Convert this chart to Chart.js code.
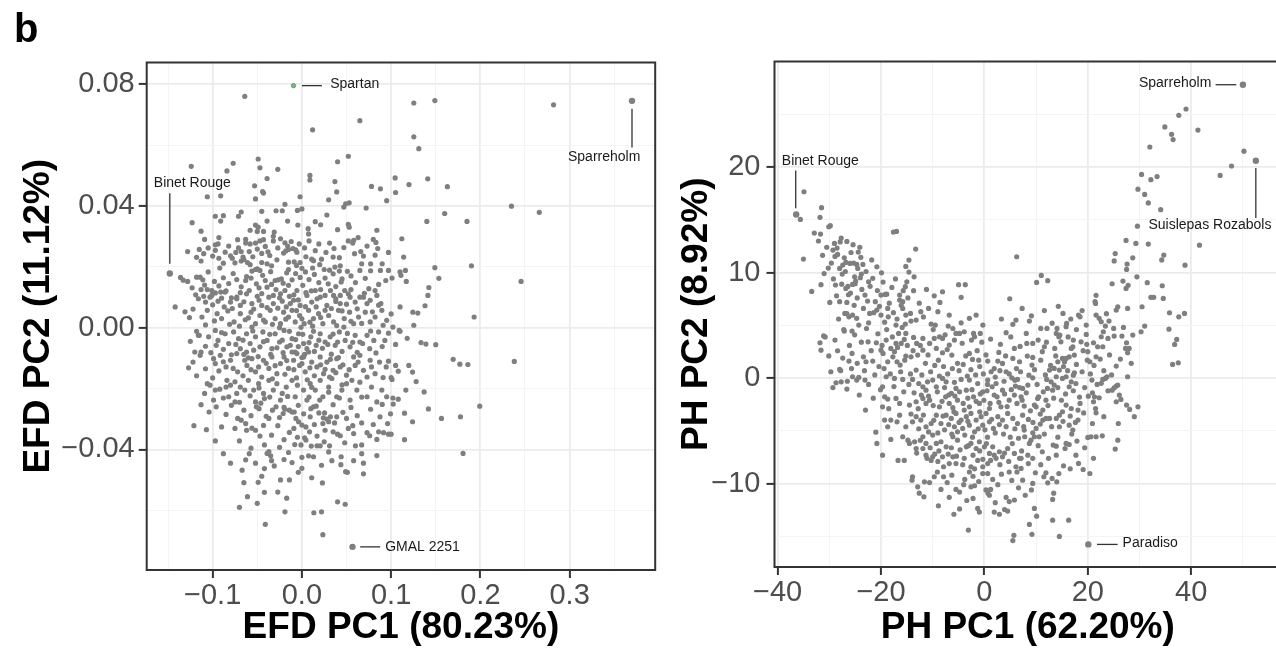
<!DOCTYPE html>
<html>
<head>
<meta charset="utf-8">
<script src="https://cdn.jsdelivr.net/npm/chart.js@4.4.1/dist/chart.umd.min.js"></script>
<style>
  html, body { margin: 0; padding: 0; background: #fff; overflow: hidden; }
  .panel { position: absolute; top: 0; }
  #efdBox { left: 0; width: 660px; height: 659px; }
  #phBox { left: 640px; width: 650px; height: 659px; }
</style>
</head>
<body>
<div class="panel" id="efdBox"><canvas id="efdChart" width="660" height="659"></canvas></div>
<div class="panel" id="phBox"><canvas id="phChart" width="650" height="659"></canvas></div>
<script>
// EFD scores: [PC1, PC2]
const efdPoints = [
  [-0.064,0.076],[0.065,0.068],[0.012,0.065],[-0.124,0.053],[-0.084,0.0515],[-0.077,0.054],[-0.049,0.0554],[-0.047,0.0525],
  [-0.027,0.052],[-0.039,0.049],[0.009,0.050],[0.009,0.0485],[0.040,0.0545],[0.052,0.0563],[0.037,0.048],[0.078,0.0464],
  [0.088,0.0456],[-0.106,0.043],[-0.091,0.0433],[-0.053,0.0466],[-0.044,0.0447],[-0.043,0.0442],[-0.052,0.0423],[-0.002,0.043],
  [-0.019,0.0405],[0.030,0.042],[0.039,0.0446],[0.047,0.0396],[0.049,0.0407],[0.053,0.041],[0.072,0.0393],[0.095,0.0417],
  [-0.123,0.0345],[-0.097,0.0366],[-0.088,0.0368],[-0.091,0.035],[-0.071,0.0366],[-0.068,0.038],[-0.045,0.0382],[-0.029,0.0384],
  [-0.022,0.0384],[-0.005,0.0385],[0.000,0.039],[-0.016,0.035],[-0.0045,0.0337],[0.015,0.0348],[0.021,0.0338],[0.0075,0.0308],
  [0.028,0.037],[0.040,0.0322],[0.052,0.0339],[0.053,0.033],[0.084,0.032],[-0.113,0.0317],[-0.109,0.029],[-0.093,0.0296],
  [-0.094,0.0275],[-0.097,0.0272],[-0.128,0.025],[-0.115,0.0257],[-0.110,0.0243],[-0.113,0.0219],[-0.097,0.0254],[-0.093,0.0228],
  [-0.078,0.0228],[-0.080,0.0236],[-0.072,0.0289],[-0.071,0.0262],[-0.068,0.025],[-0.063,0.029],[-0.063,0.0278],[-0.058,0.0275],
  [-0.052,0.0278],[-0.047,0.0285],[-0.043,0.0289],[-0.052,0.0337],[-0.049,0.033],[-0.050,0.0316],[-0.058,0.032],[-0.043,0.0316],
  [-0.031,0.0314],[-0.032,0.030],[-0.032,0.0285],[-0.019,0.0279],[-0.016,0.0268],[-0.015,0.0257],[-0.010,0.026],[-0.007,0.0256],
  [-0.0056,0.0248],[-0.018,0.0252],[-0.0205,0.0245],[-0.038,0.0249],[-0.045,0.0244],[-0.059,0.025],[-0.065,0.0224],[-0.061,0.0214],
  [-0.068,0.0219],[-0.075,0.0213],[-0.045,0.0214],[-0.039,0.021],[-0.028,0.0223],[-0.015,0.0215],[-0.0086,0.0216],[-0.002,0.0214],
  [0.0045,0.0233],[0.011,0.0225],[0.013,0.022],[0.019,0.0275],[0.027,0.0247],[0.035,0.0232],[0.036,0.026],[0.042,0.023],
  [0.043,0.0203],[0.052,0.0285],[0.058,0.0287],[0.057,0.0278],[0.059,0.0243],[0.066,0.025],[0.069,0.0235],[0.067,0.021],
  [0.077,0.021],[0.080,0.029],[0.083,0.028],[0.085,0.026],[0.082,0.0238],[0.090,0.021],[0.097,0.0247],
  [-0.136,0.0165],[-0.133,0.0156],[-0.118,0.0166],[-0.114,0.0166],[-0.111,0.0157],[-0.109,0.014],[-0.113,0.0125],[-0.106,0.0125],
  [-0.101,0.0122],[-0.110,0.0103],[-0.103,0.010],[-0.097,0.0114],[-0.091,0.0117],[-0.088,0.0164],[-0.085,0.0121],[-0.079,0.0098],
  [-0.073,0.010],[-0.069,0.0115],[-0.063,0.0155],[-0.062,0.0168],[-0.056,0.0186],[-0.052,0.0191],[-0.050,0.0193],[-0.047,0.0188],
  [-0.041,0.0155],[-0.051,0.0144],[-0.048,0.0131],[-0.039,0.0133],[-0.030,0.0155],[-0.0265,0.0157],[-0.023,0.016],[-0.021,0.0146],
  [-0.017,0.018],[-0.015,0.0191],[-0.015,0.0139],[-0.032,0.0106],[-0.024,0.0111],[-0.014,0.0103],[-0.0056,0.0122],[0.001,0.0139],
  [0.0045,0.0115],[0.0105,0.0121],[0.015,0.0122],[0.025,0.0191],[0.031,0.0189],[0.037,0.0199],[0.035,0.0177],[0.042,0.0186],
  [0.045,0.016],[0.044,0.015],[0.0295,0.0144],[0.032,0.0122],[0.055,0.017],[0.065,0.0188],[0.077,0.0187],[0.088,0.0188],
  [0.097,0.0188],[0.055,0.0125],[0.065,0.010],[0.094,0.0155],[0.082,0.0122],[0.054,0.010],[0.043,0.0106],[0.038,0.0095],
  [-0.142,0.0068],[-0.126,0.0033],[-0.115,-0.0025],[-0.120,-0.008],[-0.113,-0.008],[-0.122,-0.0113],[-0.127,-0.0132],
  [-0.116,0.0095],[-0.108,0.0084],[-0.101,0.0106],[-0.094,0.0087],[-0.086,0.0117],[-0.080,0.0084],[-0.073,0.0095],[-0.069,0.0073],
  [-0.062,0.0111],[-0.056,0.0079],[-0.050,0.0103],[-0.045,0.0073],[-0.037,0.010],[-0.032,0.0079],[-0.025,0.0098],[-0.0175,0.0068],
  [-0.0093,0.009],[-0.002,0.0073],[0.0056,0.0106],[0.011,0.0084],[0.0205,0.010],[0.028,0.0073],[0.0355,0.0106],[0.043,0.0079],
  [0.052,0.0111],[0.0597,0.0084],[0.069,0.010],[0.0765,0.009],[0.084,0.0106],[0.0885,0.0079],
  [-0.106,0.0057],[-0.095,0.0046],[-0.090,0.003],[-0.083,0.0055],[-0.076,0.0019],[-0.069,0.0046],[-0.0635,0.0026],[-0.057,0.0051],
  [-0.052,0.0013],[-0.047,0.004],[-0.041,0.0019],[-0.0355,0.0057],[-0.030,0.003],[-0.024,0.0013],[-0.0205,0.0051],[-0.015,0.0035],
  [-0.011,0.0057],[-0.0075,0.0019],[-0.0026,0.004],[0.0026,0.0013],[0.0075,0.0057],[0.013,0.003],[0.0187,0.0046],[0.0235,0.0013],
  [0.030,0.004],[0.0355,0.0019],[0.041,0.0057],[0.0474,0.003],[0.0534,0.0051],[0.058,0.0013],[0.0635,0.0035],[0.071,0.0051],
  [0.0765,0.0019],[0.082,0.0035],[0.0896,0.0057],[0.095,0.0024],
  [-0.116,-0.0025],[-0.1045,-0.003],[-0.097,-0.0009],[-0.094,-0.0042],[-0.086,-0.002],[-0.082,-0.0052],[-0.0765,-0.0014],[-0.071,-0.0036],
  [-0.069,-0.0069],[-0.062,-0.002],[-0.058,-0.0052],[-0.052,-0.003],[-0.047,-0.0063],[-0.0437,-0.0014],[-0.039,-0.0042],[-0.0336,-0.0069],
  [-0.030,-0.002],[-0.025,-0.0047],[-0.020,-0.0009],[-0.0168,-0.0063],[-0.011,-0.0036],[-0.0075,-0.008],[-0.0037,-0.002],[0.0019,-0.0052],
  [0.0056,-0.0069],[0.010,-0.003],[0.016,-0.0058],[0.0205,-0.002],[0.026,-0.0047],[0.0317,-0.003],[0.0373,-0.0058],[0.042,-0.0014],
  [0.0485,-0.0042],[0.054,-0.0063],[0.0597,-0.0025],[0.065,-0.0047],[0.073,-0.0025],[0.0806,-0.0042],[0.086,-0.0014],[0.093,-0.0042],
  [-0.114,-0.0091],[-0.099,-0.0102],[-0.097,-0.0118],[-0.0915,-0.0091],[-0.085,-0.0129],[-0.080,-0.0107],[-0.073,-0.0085],[-0.072,-0.0145],
  [-0.062,-0.008],[-0.0616,-0.0124],[-0.056,-0.0102],[-0.052,-0.0145],[-0.0485,-0.0129],[-0.043,-0.0107],[-0.037,-0.0134],[-0.0336,-0.0096],
  [-0.028,-0.0151],[-0.024,-0.0118],[-0.020,-0.0096],[-0.015,-0.0134],[-0.011,-0.008],[-0.0093,-0.0107],[-0.0056,-0.0085],[-0.0026,-0.0124],
  [0.0019,-0.0096],[0.0037,-0.0145],[0.0075,-0.008],[0.011,-0.0113],[0.0168,-0.0129],[0.0205,-0.0096],[0.0243,-0.0151],[0.028,-0.0113],
  [0.035,-0.014],[0.039,-0.0102],[0.043,-0.0129],[0.050,-0.0156],[0.058,-0.0096],[0.0597,-0.0124],[0.065,-0.0091],[0.069,-0.014],
  [0.0765,-0.0107],[0.082,-0.0151],[0.087,-0.0113],[0.0945,-0.0129],
  [-0.106,-0.0184],[-0.097,-0.0205],[-0.084,-0.0173],[-0.073,-0.0216],[-0.069,-0.0195],[-0.060,-0.0173],[-0.054,-0.0205],[-0.0485,-0.0184],
  [-0.042,-0.0233],[-0.037,-0.0173],[-0.032,-0.0205],[-0.028,-0.0184],[-0.022,-0.0216],[-0.0175,-0.0195],[-0.011,-0.0173],[-0.0075,-0.0227],
  [-0.005,-0.0189],[0.0019,-0.0205],[0.0056,-0.0238],[0.0093,-0.0184],[0.015,-0.0205],[0.0205,-0.0173],[0.0235,-0.0227],[0.030,-0.0195],
  [0.0336,-0.0167],[0.039,-0.0227],[0.0448,-0.0205],[0.050,-0.0184],[0.054,-0.0238],[0.0616,-0.0205],[0.065,-0.0179],[0.073,-0.0227],
  [0.078,-0.0195],[0.084,-0.0244],[0.0896,-0.0205],[0.095,-0.0227],
  [-0.109,-0.0216],[-0.103,-0.0189],[-0.099,-0.0238],[-0.096,-0.026],[-0.092,-0.0202],[-0.082,-0.0227],[-0.080,-0.0189],[-0.079,-0.0255],
  [-0.075,-0.0244],[-0.072,-0.0298],[-0.068,-0.0304],[-0.065,-0.0271],[-0.064,-0.0205],[-0.063,-0.0315],[-0.062,-0.0337],[-0.052,-0.0337],
  [-0.052,-0.0244],[-0.051,-0.026],[-0.048,-0.0266],[-0.043,-0.0216],[-0.043,-0.0321],[-0.040,-0.0291],[-0.037,-0.0298],[-0.034,-0.0353],
  [-0.029,-0.026],[-0.024,-0.0238],[-0.020,-0.0262],[-0.019,-0.0268],[-0.014,-0.0344],[-0.014,-0.0271],[-0.011,-0.0277],[-0.0086,-0.0277],
  [-0.0067,-0.0298],[-0.0037,-0.0309],[0.000,-0.032],[0.003,-0.0362],[0.0045,-0.0326],[0.0086,-0.0342],[0.0093,-0.0293],[0.013,-0.026],
  [0.016,-0.0258],[0.019,-0.028],[0.0235,-0.0315],[0.0254,-0.028],[0.026,-0.0337],[0.028,-0.030],[0.030,-0.0309],[0.032,-0.0293],
  [0.035,-0.0342],[0.0366,-0.0313],[0.039,-0.0293],[0.040,-0.035],[0.043,-0.0355],[0.050,-0.0298],[0.052,-0.0331],[0.058,-0.0348],
  [0.067,-0.0313],[0.073,-0.0345],[0.084,-0.0367],[0.086,-0.0342],[0.0915,-0.0345],[0.096,-0.0315],[0.0875,-0.0293],[0.097,-0.035],
  [-0.121,-0.0322],[-0.090,-0.0326],[-0.088,-0.0414],[-0.063,-0.0434],[-0.059,-0.0414],[-0.057,-0.0396],[-0.042,-0.0463],[-0.039,-0.0413],
  [-0.037,-0.0407],[-0.035,-0.0421],[-0.034,-0.0437],[-0.031,-0.0454],[-0.025,-0.0393],[-0.015,-0.041],[-0.011,-0.0443],[-0.008,-0.0384],
  [-0.005,-0.036],[0.000,-0.0426],[0.0045,-0.0369],[0.0075,-0.0421],[0.013,-0.0424],[0.0105,-0.0389],[0.017,-0.0388],[0.0205,-0.0388],
  [0.0336,-0.0437],[0.0437,-0.045],[0.049,-0.0473],[0.051,-0.0475],[0.044,-0.0424],[0.067,-0.0385],[0.067,-0.0414],[0.069,-0.0445],
  [0.069,-0.048],[0.084,-0.042],[-0.065,-0.0509],[-0.049,-0.0508],[-0.024,-0.050],[-0.014,-0.050],[0.011,-0.0493],[0.023,-0.051],
  [-0.061,-0.0555],[-0.042,-0.0541],[-0.027,-0.054],[-0.017,-0.056],[-0.070,-0.059],[-0.050,-0.0577],[-0.019,-0.0605],[0.0134,-0.0608],
  [0.022,-0.0605],[0.040,-0.0572],[0.0485,-0.058],[-0.041,-0.0646],[0.0235,-0.068],
  [0.1254,0.0738],[0.149,0.0746],[0.282,0.0732],[0.1254,0.0627],[0.131,0.0588],[0.1045,0.0492],[0.105,0.0444],[0.120,0.047],
  [0.141,0.0489],[0.163,0.0463],[0.2348,0.0399],[0.266,0.0379],[0.140,0.0349],[0.160,0.0375],[0.185,0.0349],[0.112,0.0292],
  [0.114,0.0232],[0.149,0.0197],[0.190,0.0203],[0.110,0.0183],[0.116,0.0188],[0.111,0.0172],[0.117,0.0152],[0.101,0.0163],
  [0.1535,0.0162],[0.2456,0.0152],[0.1423,0.0132],[0.1412,0.0106],[0.138,0.0072],[0.1243,0.0051],[0.1299,0.0048],[0.193,0.0035],
  [0.1254,0.0008],[0.102,0.0002],[0.109,-0.0009],
  [0.110,-0.0012],[0.1335,-0.0049],[0.139,-0.0054],[0.150,-0.0056],[0.1695,-0.0104],[0.177,-0.012],[0.186,-0.0121],[0.238,-0.0111],
  [0.105,-0.0124],[0.1198,-0.0124],[0.124,-0.0146],[0.128,-0.0177],[0.100,-0.0164],[0.101,-0.017],[0.1165,-0.0205],[0.137,-0.0211],
  [0.102,-0.0231],[0.1023,-0.0251],[0.0993,-0.0283],[0.1418,-0.0267],[0.1564,-0.0298],[0.1777,-0.0293],[0.1993,-0.0258],[0.124,-0.0309],
  [0.100,-0.035],[0.115,-0.0368],[0.1806,-0.0413],
  [-0.105,0.0262],[-0.086,0.0248],[-0.082,0.0268],[-0.074,0.0247],[-0.066,0.0232],[-0.055,0.0233],[-0.05,0.0258],[-0.041,0.0267],
  [-0.036,0.0237],[-0.027,0.0262],[-0.024,0.0292],[-0.012,0.0283],[-0.003,0.0275],[0.003,0.0262],[0.008,0.0285],[0.015,0.0253],
  [0.022,0.0225],[0.031,0.0278],[0.047,0.0263],[0.063,0.0296],[-0.088,0.0212],[-0.058,0.0207],[-0.034,0.0203],[-0.006,0.0204],
  [0.02,0.0207],[0.073,0.0268],[-0.118,0.0231],[-0.1,0.0235],[0.007,0.0325],[-0.039,0.035],
  [-0.128,0.0152],[-0.123,0.0131],[-0.105,0.0183],[-0.098,0.0152],[-0.093,0.0137],[-0.082,0.0145],[-0.077,0.0178],[-0.073,0.0158],
  [-0.068,0.0134],[-0.059,0.0122],[-0.057,0.0163],[-0.044,0.0172],[-0.035,0.0184],[-0.034,0.0142],[-0.029,0.0125],[-0.019,0.0122],
  [-0.011,0.0157],[-0.007,0.0178],[-0.002,0.0165],[0.004,0.0183],[0.008,0.0158],[0.014,0.0175],[0.019,0.0148],[0.021,0.0125],
  [0.026,0.0163],[0.038,0.0135],[0.048,0.0122],[0.051,0.0185],[0.06,0.0148],[0.071,0.0162],[0.075,0.0128],[0.086,0.0142],
  [-0.045,0.0112],[-0.009,0.0108],[0.026,0.0106],[0.07,0.0113],[-0.119,0.0108],[-0.092,0.0196],[0.0,0.0195],[0.012,0.0196],
  [-0.131,0.0052],[-0.122,0.0061],[-0.112,0.0035],[-0.1,0.0075],[-0.098,0.0022],[-0.087,0.0068],[-0.081,0.0011],[-0.078,0.0063],
  [-0.065,0.0085],[-0.06,0.0032],[-0.054,0.0061],[-0.048,0.009],[-0.043,0.0025],[-0.039,0.0066],[-0.033,0.0011],[-0.027,0.0064],
  [-0.022,0.0087],[-0.018,0.0028],[-0.013,0.0079],[-0.006,0.0056],[-0.004,0.0091],[0.0,0.0029],[0.004,0.0069],[0.009,0.0018],
  [0.016,0.0068],[0.017,0.0095],[0.021,0.0033],[0.026,0.0057],[0.033,0.0063],[0.038,0.0086],[0.039,0.0007],[0.045,0.0055],
  [0.05,0.0077],[0.055,0.0021],[0.062,0.0062],[0.067,0.0014],[0.073,0.0079],[0.079,0.0052],[0.086,0.0074],[0.091,0.0008],
  [0.1,0.0045],[0.11,0.0068],[-0.07,0.0005],[-0.025,0.0],[0.012,0.0005],[0.047,0.0002],[-0.108,0.0009],[-0.09,0.0097],
  [-0.056,0.0002],[-0.001,0.0001],
  [-0.125,-0.0045],[-0.108,-0.0061],[-0.102,-0.0082],[-0.09,-0.0016],[-0.088,-0.0071],[-0.079,-0.0089],[-0.074,-0.0055],[-0.066,-0.0041],
  [-0.065,-0.0088],[-0.055,-0.0011],[-0.054,-0.0074],[-0.049,-0.0095],[-0.043,-0.0046],[-0.036,-0.0022],[-0.035,-0.0088],[-0.028,-0.0066],
  [-0.022,-0.0041],[-0.021,-0.0082],[-0.014,-0.0012],[-0.013,-0.0058],[-0.007,-0.0039],[-0.004,-0.0062],[0.001,-0.0022],[0.003,-0.0088],
  [0.008,-0.0049],[0.013,-0.0012],[0.014,-0.0078],[0.019,-0.0041],[0.023,-0.0068],[0.029,-0.0055],[0.033,-0.0087],[0.035,-0.0021],
  [0.04,-0.0047],[0.045,-0.0078],[0.051,-0.0019],[0.057,-0.0048],[0.062,-0.0081],[0.068,-0.0052],[0.076,-0.0069],[0.077,-0.0011],
  [0.083,-0.0083],[0.09,-0.0062],[0.097,-0.0018],[0.105,-0.0055],[0.118,-0.0035],[-0.118,-0.0012],[-0.096,-0.0058],[-0.06,-0.0099],
  [0.0,-0.0098],[0.041,-0.0098],
  [-0.118,-0.0158],[-0.108,-0.0135],[-0.1,-0.0165],[-0.093,-0.0142],[-0.088,-0.0112],[-0.077,-0.0134],[-0.075,-0.0178],[-0.066,-0.0158],
  [-0.064,-0.0107],[-0.057,-0.0138],[-0.045,-0.0162],[-0.04,-0.0117],[-0.033,-0.0168],[-0.03,-0.0125],[-0.019,-0.0153],[-0.017,-0.0108],
  [-0.009,-0.0138],[-0.006,-0.0165],[0.0,-0.0118],[0.006,-0.0171],[0.009,-0.0132],[0.014,-0.0158],[0.021,-0.0122],[0.026,-0.0137],
  [0.031,-0.0162],[0.032,-0.0104],[0.038,-0.0148],[0.046,-0.0122],[0.053,-0.0138],[0.056,-0.0173],[0.063,-0.0113],[0.073,-0.0162],
  [0.078,-0.0129],[0.091,-0.0164],[0.097,-0.011],[0.108,-0.0143],[-0.085,-0.0195],[-0.048,-0.0198],[0.011,-0.0196],[0.045,-0.0188],
  [-0.113,-0.0253],[-0.104,-0.0277],[-0.088,-0.0231],[-0.085,-0.0285],[-0.07,-0.0245],[-0.058,-0.0224],[-0.057,-0.0289],[-0.046,-0.0248],
  [-0.036,-0.0228],[-0.033,-0.0271],[-0.025,-0.0295],[-0.016,-0.0226],[-0.004,-0.0255],[0.002,-0.0283],[0.008,-0.0228],[0.01,-0.0266],
  [0.02,-0.0238],[0.024,-0.0296],[0.035,-0.0253],[0.042,-0.0231],[0.046,-0.0278],[0.055,-0.0262],[0.062,-0.0289],[0.067,-0.0228],
  [0.077,-0.0268],[0.09,-0.0252],[0.108,-0.0235],[0.115,-0.0281],[-0.021,-0.0282],[0.03,-0.0212],
  [-0.107,-0.0335],[-0.097,-0.0372],[-0.075,-0.0331],[-0.07,-0.0372],[-0.047,-0.0356],[-0.042,-0.0385],[-0.027,-0.0322],[-0.02,-0.0368],
  [-0.009,-0.0331],[-0.001,-0.0385],[0.014,-0.0318],[0.017,-0.0356],[0.025,-0.0375],[0.031,-0.0388],[0.048,-0.0378],[0.057,-0.0322],
  [0.06,-0.0388],[0.076,-0.0355],[0.08,-0.0318],[-0.056,-0.033],
  [-0.08,-0.0445],[-0.067,-0.0468],[-0.052,-0.0445],[-0.045,-0.0488],[-0.02,-0.0433],[-0.004,-0.0475],[0.022,-0.0452],[0.03,-0.0408],
  [0.058,-0.0437],[0.0,-0.0462]
];
// labelled accessions (EFD)
const efdLabelNames = ['Spartan', 'Sparreholm', 'Binet Rouge', 'GMAL 2251'];
const efdLabelPC1 = [-0.0094, 0.3699, -0.148, 0.0567];
const efdLabelPC2 = [0.0795, 0.0745, 0.0178, -0.0720];

// PH scores: [PC1, PC2]
const phPoints = [
  [-34.9,17.66],[-35.6,15.04],[-31.5,16.15],[-31.8,15.23],[-29.8,14.44],[-30.1,14.34],[-32.9,13.74],[-31.7,13.65],
  [-32.1,12.99],[-35.0,11.28],[-31.3,11.63],[-27.7,13.27],[-26.6,12.95],[-25.4,12.64],[-29.0,12.76],[-29.3,12.13],
  [-28.5,12.32],[-28.9,11.53],[-28.4,11.72],[-24.4,11.94],[-23.9,11.44],[-30.2,10.43],[-28.0,10.39],[-27.4,10.71],
  [-26.8,10.96],[-26.0,10.87],[-25.3,10.90],[-24.7,10.77],[-23.5,10.77],[-27.5,9.86],[-25.1,9.6],[-24.5,10.39],
  [-23.8,9.86],[-20.8,10.55],[-19.9,9.98],[-21.6,9.45],[-22.4,9.13],[-24.0,9.51],[-25.0,8.94],[-25.5,8.88],
  [-26.4,8.69],[-26.8,8.5],[-31.6,8.85],[-33.4,8.21],[-28.8,8.82],[-25.9,8.06],[-23.1,7.87],[-21.1,7.24],
  [-20.0,7.87],[-19.2,7.93],[-18.9,7.95],[-17.9,8.59],[-17.6,13.84],[-17.0,13.9],[-13.3,12.23],[-14.6,11.18],
  [-15.2,10.58],[-14.6,10.05],[-15.0,9.13],[-15.3,8.66],[-15.7,8.28],[-16.4,7.87],[-16.4,7.39],[-13.7,8.28],
  [-15.8,7.24],[-9.7,7.8],[-8.1,8.18],[-8.6,7.17],[-5.0,8.85],[-3.7,8.85],[-4.5,7.65],[6.25,11.5],
  [4.9,7.52],[-29.9,7.17],[-28.0,7.24],[-26.6,7.17],
  [39.0,25.5],[37.6,24.9],[34.9,23.8],[36.2,23.1],[36.5,22.6],[41.3,23.5],[32.0,21.9],[50.2,21.5],
  [47.8,20.1],[45.6,19.2],[30.4,19.3],[32.2,18.8],[33.4,19.1],[29.7,17.9],[31.0,17.4],[31.7,16.6],
  [34.1,15.96],[29.6,14.4],[27.4,13.05],[29.3,12.76],[31.7,12.7],[41.6,12.6],[25.3,11.8],[25.1,11.1],
  [28.7,11.4],[27.6,10.8],[27.5,10.3],[34.7,11.66],[34.3,11.2],[38.8,10.7],[11.0,9.73],[10.1,9.07],
  [12.25,9.23],[29.5,9.6],[24.7,8.94],[26.8,9.19],[27.8,8.8],[27.4,8.5],[31.5,9.04],[34.4,8.75],
  [21.6,7.84],[21.5,7.08],[32.2,7.65],[32.75,7.65],[34.6,7.55],[3.3,5.6],[5.5,5.1],
  [-27.0,6.13],[-26.2,5.81],[-25.5,5.97],[-24.7,5.66],[-24.3,5.02],[-22.2,6.13],[-22.4,5.24],[-20.8,6.45],
  [-20.0,5.97],[-18.7,6.6],[-18.6,5.81],[-15.8,6.6],[-15.2,5.97],[-14.3,6.13],[-12.3,6.29],[-13.2,5.5],
  [-15.3,5.12],[-17.1,5.02],[-10.3,5.12],[-9.5,5.02],[-9.0,6.29],[-6.8,5.97],[-7.0,4.93],[-4.5,5.24],
  [-2.9,5.66],[-1.6,5.97],[-0.3,5.02],[4.2,4.3],[6.1,5.5],[7.3,6.6],[-27.1,4.46],[-25.6,4.46],
  [-31.1,4.0],[-31.8,3.35],[-31.6,2.65],[-28.4,2.59],[-25.6,2.34],[-26.2,1.61],[-28.0,0.82],[-27.8,0.7],
  [-28.7,-0.44],[-27.7,-0.35],[-26.6,-1.04],[-25.5,0.13],[-24.7,-0.19],[-24.3,0.06],[-23.1,-0.19],[-23.4,2.02],
  [-22.9,1.55],[-21.6,1.61],[-23.0,-3.03],[-22.5,3.44],[-20.9,3.35],[-20.0,2.65],[-19.6,2.34],[-19.0,3.6],
  [-18.7,1.55],[-18.1,2.81],[-17.7,2.02],[-17.4,2.5],[-16.9,1.55],[-16.3,1.23],[-17.1,3.29],[-16.1,3.29],
  [-15.5,3.66],[-16.6,4.23],[-15.2,4.23],[-13.7,3.85],[-13.1,3.29],[-11.9,2.65],[-12.9,2.18],[-15.2,2.09],
  [-14.2,2.02],[-11.9,3.76],[-10.6,3.29],[-9.7,3.76],[-9.3,2.81],[-8.7,3.92],[-8.1,3.76],[-5.8,3.6],
  [-5.5,4.23],[-4.8,4.23],[-3.9,4.39],[-2.1,4.23],[-0.8,4.23],[-1.9,3.92],[-6.8,3.13],[-8.1,2.4],
  [-6.3,2.18],[-2.9,2.34],[-2.3,1.77],[-1.1,1.7],[0.64,1.61],[2.8,2.43],[2.6,1.61],[3.5,1.39],
  [4.2,0.6],[5.5,1.86],[5.8,2.81],[6.9,3.0],[6.8,1.55],[5.3,0.03],[6.0,-0.76],[6.4,-0.13],
  [-19.0,0.13],[-19.7,-0.82],[-19.3,-1.77],[-19.7,-2.72],[-18.7,-1.99],[-17.4,-0.03],[-15.8,-0.13],[-17.1,-1.93],
  [-13.9,-0.13],[-13.2,0.76],[-12.7,-0.51],[-11.9,-0.82],[-11.0,-0.35],[-11.3,-1.14],[-10.0,-0.19],[-9.3,-0.82],
  [-8.1,-0.03],[-7.4,-0.35],[-7.5,-1.77],[-6.4,-1.45],[-5.5,-0.98],[-4.5,-0.13],[-5.2,-2.09],[-6.8,-2.4],
  [-8.7,-2.72],[-10.6,-2.09],[-11.9,-1.93],[-13.2,-2.24],[-14.5,-2.56],[-11.3,-2.4],[-3.5,-1.14],[-2.9,-0.19],
  [-2.1,-1.77],[-1.3,-0.51],[-0.32,-1.3],[0.64,-0.19],[1.5,-0.82],[2.45,-1.77],[2.26,-0.51],[3.5,-1.14],
  [4.8,-2.09],[5.8,-1.61],[7.1,-1.77],[3.2,-2.72],[0.97,-2.88],[-0.97,-2.4],[-2.9,-2.72],[-3.9,-3.03],
  [-5.5,-3.35],[-6.4,-3.82],[-7.4,-3.51],[-8.4,-4.3],[-9.3,-3.51],[-10.3,-4.3],[-11.3,-4.61],[-12.3,-3.98],
  [-13.2,-3.66],[-13.9,-4.14],[-15.2,-4.61],[-16.4,-3.51],[-16.9,-4.14],[-18.1,-3.98],[-19.3,-3.98],[-18.7,-4.61],
  [-21.0,-5.12],[-20.8,-6.19],[-18.1,-5.81],[-19.7,-7.3],[-15.8,-5.56],[-14.8,-5.88],[-14.5,-6.19],[-13.5,-6.03],
  [-13.2,-6.67],[-11.9,-5.56],[-11.3,-6.19],[-10.0,-5.4],[-9.3,-6.19],[-8.4,-6.03],[-7.4,-6.51],[-6.1,-5.56],
  [-5.8,-4.61],[-5.2,-5.09],[-5.2,-5.88],[-4.5,-3.98],[-4.2,-4.77],[-3.5,-3.66],[-2.9,-4.46],[-2.6,-3.35],
  [-1.9,-5.09],[-1.6,-3.98],[-0.64,-3.66],[-0.32,-4.46],[0.32,-3.35],[0.97,-4.14],[1.74,-4.77],[2.6,-3.66],
  [3.5,-3.98],[4.5,-3.35],[5.5,-3.82],[6.4,-4.3],[7.4,-3.51],[-3.5,-6.51],[-2.6,-6.19],[-1.6,-6.67],
  [-0.97,-6.03],[0.0,-6.51],[0.97,-7.14],[1.6,-6.51],[2.9,-6.98],[3.5,-7.46],[4.5,-6.67],[5.8,-7.14],
  [6.8,-7.6],[6.1,-8.4],[4.8,-8.9],[2.26,-7.6],[0.64,-8.1],[-0.32,-8.4],[-1.3,-7.8],[-2.6,-8.4],
  [-2.9,-8.9],[-4.2,-8.2],[-5.5,-8.1],[-6.1,-7.46],[-6.8,-8.1],[-8.1,-7.46],[-9.0,-7.9],[-10.0,-7.46],
  [-10.3,-7.8],[-11.3,-7.3],[-11.9,-6.67],[-15.5,-7.8],[-16.7,-7.8],[-13.9,-9.35],[-14.0,-9.67],[-12.9,-10.3],
  [-12.6,-10.9],[-11.7,-11.25],[-11.6,-9.83],[-9.7,-9.35],[-8.4,-10.55],[-7.9,-9.35],[-6.8,-11.3],[-5.9,-12.9],
  [-4.8,-12.4],[-5.5,-10.55],[-4.8,-10.8],[-4.0,-10.1],[-3.4,-11.6],[-2.6,-10.3],[-1.9,-10.2],[-3.1,-14.4],
  [-1.3,-12.35],[-0.97,-12.7],[0.3,-10.6],[0.7,-10.9],[1.2,-10.55],[0.97,-11.1],[2.1,-11.8],[1.9,-12.7],
  [3.9,-12.45],[4.2,-11.3],[4.5,-12.6],[4.8,-11.7],[5.8,-11.55],[5.7,-14.9],[5.5,-15.4],[-0.32,-9.04],
  [0.64,-9.04],
  [8.7,5.4],[8.1,4.23],[8.2,3.29],[9.35,3.29],[8.3,2.09],[9.35,1.96],[9.2,1.23],[8.6,0.28],
  [9.35,0.03],[8.4,-0.66],[7.4,-0.98],[7.3,-2.09],[7.7,-2.65],[8.5,-3.92],[7.7,-4.93],[7.8,-5.56],
  [9.0,-5.88],[9.35,-5.18],[10.0,-4.77],[10.8,-4.36],[11.3,-3.98],[11.9,-3.82],[12.6,-3.82],[10.8,-3.41],
  [10.0,-2.72],[9.67,-2.56],[10.3,-1.93],[10.5,-1.77],[11.3,-3.03],[11.9,-2.09],[12.2,-0.98],[13.2,-1.14],
  [13.5,-0.66],[12.9,-0.35],[12.05,-0.13],[13.9,0.13],[15.1,-0.03],[15.8,0.13],[16.4,-0.82],[16.8,-0.35],
  [17.7,-0.51],[17.2,0.28],[14.5,0.76],[13.5,0.92],[12.6,0.76],[14.2,1.55],[15.5,1.55],[15.1,1.86],
  [16.4,2.02],[17.4,2.18],[17.4,0.5],[16.8,2.81],[17.1,2.97],[17.2,3.6],[15.8,1.86],[14.8,3.44],
  [14.4,3.92],[13.9,4.23],[14.6,4.08],[13.6,2.81],[11.6,2.97],[11.2,2.5],[10.9,4.71],[12.1,4.71],
  [14.05,4.71],[15.2,6.13],[15.8,4.87],[15.9,5.18],[18.2,5.97],[18.5,5.81],[18.7,3.44],[19.7,5.02],
  [19.7,4.14],[20.0,2.5],[19.9,1.7],[20.4,1.55],[21.1,3.35],[21.6,2.02],[21.4,7.24],[21.6,5.97],
  [22.2,5.66],[22.6,5.34],[23.0,4.39],[23.4,4.93],[22.6,3.92],[21.9,2.97],[22.9,2.97],[23.9,3.76],
  [25.0,4.71],[25.1,3.98],[25.5,6.45],[25.8,6.76],[27.7,6.6],[30.5,6.76],[26.6,3.98],[27.5,3.35],
  [27.3,2.81],[28.0,2.81],[27.7,2.4],[28.7,4.08],[30.3,4.39],[31.0,4.93],[25.5,1.14],[27.7,0.13],
  [20.8,-0.19],[22.9,-0.13],[22.6,-0.5],[23.4,-0.03],[23.7,0.13],[23.9,-1.2],[24.7,-1.14],[25.5,-0.76],
  [25.8,-0.66],[25.1,-0.92],[26.1,-1.61],[26.4,-2.02],[25.5,-2.24],[27.5,-2.56],[29.7,-2.72],[29.0,-3.66],
  [28.1,-2.97],[25.9,-4.3],[21.3,-1.77],[22.2,-1.86],[20.9,-1.39],[20.1,-1.71],[21.1,-2.24],[21.5,-2.88],
  [21.6,-3.29],[20.9,-4.3],[23.1,-3.66],[18.5,-2.4],[18.1,-3.03],[16.8,-2.88],[15.8,-2.56],[15.1,-3.19],
  [14.5,-3.51],[13.9,-3.82],[14.5,-4.61],[16.4,-4.46],[17.1,-4.93],[18.1,-3.98],[20.0,-5.62],[20.6,-5.56],
  [21.6,-5.56],[22.8,-5.47],[25.8,-5.88],[25.3,-6.73],[17.9,-5.97],[16.4,-6.29],[15.6,-6.67],[15.8,-6.19],
  [13.9,-6.45],[13.3,-6.35],[11.2,-6.98],[10.6,-5.56],[9.67,-5.56],[8.7,-6.19],[8.4,-7.3],[9.35,-7.6],
  [7.1,-7.6],[7.1,-8.56],[7.4,-9.67],[9.86,-8.97],[11.5,-9.35],[11.9,-8.97],[12.25,-9.92],[13.1,-9.51],
  [14.0,-9.83],[14.4,-9.04],[15.3,-8.31],[13.9,-7.3],[17.7,-7.3],[18.2,-8.09],[19.1,-8.66],[20.4,-9.04],
  [21.1,-7.6],[9.35,-9.98],[13.4,-10.9],[13.2,-11.5],[9.67,-12.35],[10.1,-13.08],[8.7,-13.87],[13.2,-13.46],
  [16.3,-13.46],[9.2,-14.8],[14.5,-15.0],
  [35.8,6.19],[37.6,5.81],[38.7,6.13],[35.7,4.64],[37.2,3.66],[36.8,3.19],[36.4,1.3],[37.5,1.45],
  [-31.0,9.9],[-30.5,12.4],[-29.6,10.9],[-29.2,9.4],[-28.6,7.8],[-27.9,12.9],[-27.6,8.9],[-27.1,11.4],
  [-26.9,10.1],[-26.3,7.9],[-25.8,11.9],[-25.2,6.9],[-24.9,9.2],[-24.6,7.6],[-24.1,12.4],[-23.7,8.4],
  [-23.4,6.6],[-22.9,10.1],[-22.6,7.3],[-22.1,8.7],[-21.8,11.2],[-21.4,6.2],[-20.7,8.3],[-20.3,6.8],
  [-19.6,9.1],[-19.3,5.3],[-18.4,7.1],[-17.6,6.2],[-17.2,9.4],[-16.9,5.6],[-16.1,6.9],[-14.8,7.6],
  [-14.2,5.4],[-13.6,9.6],[-12.6,7.1],[-11.8,5.8],[-11.2,8.4],[-10.8,6.6],[-28.2,5.6],[-26.6,6.1],
  [-30.8,3.9],[-30.1,2.1],[-29.7,0.6],[-29.3,-0.9],[-28.9,3.6],[-27.4,1.9],[-27.2,4.6],[-26.5,-0.3],
  [-26.1,3.1],[-25.7,0.9],[-25.1,4.1],[-24.6,1.4],[-24.2,-1.6],[-23.8,3.4],[-23.2,0.7],[-22.8,4.7],
  [-22.4,-0.6],[-21.9,2.6],[-21.5,-1.9],[-21.2,0.3],[-20.6,4.2],[-20.4,1.1],[-20.1,-1.1],[-19.8,3.1],
  [-19.4,0.9],[-18.9,4.6],[-18.5,-2.9],[-18.2,0.4],[-17.8,3.9],[-17.5,-0.8],[-16.8,2.9],[-16.4,-2.4],
  [-16.2,0.6],[-15.9,4.8],[-15.6,-1.3],[-15.4,1.7],[-14.9,3.1],[-14.6,-0.6],[-14.3,0.4],[-13.8,2.6],
  [-12.4,3.1],[-10.9,2.2],[-9.9,4.6],[-8.9,1.7],[-7.6,4.1],[-7.2,2.7],[-6.1,4.7],[-5.2,1.4],
  [-4.3,3.3],[-3.6,2.1],[-2.5,3.6],[-1.4,2.6],[-0.5,3.4],[0.3,2.2],[1.2,3.7],[1.9,0.9],
  [3.1,3.2],[4.1,2.1],[5.1,3.9],[6.2,0.9],
  [-12.1,0.3],[-11.4,1.4],[-10.4,0.6],[-9.6,1.2],[-8.7,0.2],[-7.9,1.1],[-7.1,0.4],[-6.2,0.9],
  [-5.8,-0.4],[-4.9,0.7],[-4.1,1.3],[-3.3,0.2],[-2.6,0.8],[-1.7,0.3],[-0.9,1.1],[-0.2,0.4],
  [0.6,-0.6],[1.3,0.6],[2.1,0.1],[3.0,0.7],[3.8,-0.3],[4.8,0.4],[5.9,-0.2],[7.0,0.6],
  [-13.6,-1.4],[-12.8,-2.9],[-12.2,-1.6],[-10.8,-1.7],[-9.9,-2.6],[-9.1,-1.3],[-8.2,-2.2],[-7.7,-0.9],
  [-6.9,-1.6],[-6.1,-2.8],[-5.7,-1.7],[-4.8,-1.3],[-4.1,-2.4],[-3.2,-1.9],[-2.4,-1.1],[-1.6,-2.2],
  [-0.8,-1.5],[-0.1,-2.1],[0.5,-1.2],[1.1,-2.4],[1.9,-1.6],[2.8,-2.3],[3.9,-1.5],[4.4,-2.7],
  [5.2,-1.1],[6.3,-2.4],[6.8,-0.9],
  [-14.2,-3.4],[-12.7,-4.8],[-11.8,-3.5],[-10.8,-5.1],[-9.8,-4.0],[-9.0,-5.2],[-8.0,-3.6],[-7.7,-4.9],
  [-6.9,-4.4],[-6.3,-5.3],[-5.9,-3.2],[-4.9,-4.2],[-3.8,-5.4],[-3.2,-4.1],[-2.3,-5.6],[-1.2,-4.8],
  [-0.9,-3.2],[0.1,-4.9],[0.6,-5.6],[1.4,-3.9],[2.1,-5.2],[2.9,-4.4],[3.7,-5.3],[4.2,-4.6],
  [5.0,-5.6],[5.9,-4.8],[6.6,-5.7],[7.6,-4.6],
  [-13.1,-7.1],[-12.4,-5.9],[-11.1,-7.6],[-10.5,-6.6],[-9.6,-7.2],[-8.8,-6.9],[-7.9,-8.4],[-7.0,-7.2],
  [-6.4,-6.6],[-5.4,-7.4],[-4.7,-6.8],[-3.9,-7.6],[-3.1,-6.4],[-2.2,-7.3],[-1.9,-8.6],[-0.9,-6.9],
  [-0.3,-7.7],[0.4,-6.2],[1.2,-7.8],[1.9,-7.3],[3.0,-8.2],[3.9,-7.1],[4.7,-7.9],[5.4,-6.2],
  [6.3,-8.9],[7.2,-6.9],
  [-10.6,-9.9],[-9.1,-8.9],[-7.2,-9.9],[-6.3,-9.2],[-3.8,-9.6],[-2.2,-9.3],[-1.1,-9.8],[1.6,-9.6],
  [2.6,-10.1],[3.3,-9.1],[5.3,-9.7],[6.6,-10.4],[-8.9,-12.1],[-2.2,-11.4],[2.9,-12.9],[7.9,-11.1],
  [9.1,-10.6],
  [8.1,-1.4],[8.9,-3.1],[9.7,0.8],[10.2,-0.6],[10.9,1.7],[11.4,-1.3],[11.8,0.3],[12.3,-2.6],
  [12.8,1.2],[13.4,-1.9],[13.8,2.1],[14.2,-0.9],[14.9,-2.1],[15.3,1.1],[15.7,-1.5],[16.1,0.7],
  [16.6,-3.6],[17.2,-1.2],[17.8,1.3],[18.4,-1.8],[18.9,0.6],[19.4,-0.9],[19.8,3.2],[20.5,0.4],
  [21.2,1.2],[21.8,-0.6],[22.4,1.8],[23.1,0.7],[24.2,2.2],[24.6,0.3],[9.4,-4.2],[10.4,-6.4],
  [11.6,-5.3],[12.4,-7.6],[13.0,-4.6],[14.2,-5.6],[15.2,-4.1],[16.9,-5.3],[17.6,-4.2],[19.4,-6.6],
  [19.2,-3.3],[12.0,3.4],[13.1,5.2],[16.2,3.9],[17.8,4.6],[19.1,2.6],[24.1,5.4],[26.3,1.8],
  [9.1,5.9],[10.4,3.6],[11.6,6.4],[14.3,6.8],[16.7,5.6],[18.9,6.4],[23.6,6.1],[26.9,4.8],
  [28.4,1.4],[8.5,-8.1],[10.9,-8.2],[16.6,-8.6]
];
// labelled accessions (PH)
const phLabelNames = ['Binet Rouge', 'Sparreholm', 'Suislepas Rozabols', 'Paradiso'];
const phLabelPC1 = [-36.4, 50.0, 52.5, 20.1];
const phLabelPC2 = [15.5, 27.8, 20.6, -15.76];

// axis ticks
const efdTicksX = [-0.1, 0.0, 0.1, 0.2, 0.3];
const efdGridX = [-0.15, -0.1, -0.05, 0.0, 0.05, 0.1, 0.15, 0.2, 0.25, 0.3, 0.35];
const efdTicksY = [-0.04, 0.00, 0.04, 0.08];
const efdGridY = [-0.06, -0.04, -0.02, 0.00, 0.02, 0.04, 0.06, 0.08];
const phTicksX = [-40, -20, 0, 20, 40];
const phGridX = [-40, -30, -20, -10, 0, 10, 20, 30, 40, 50];
const phTicksY = [-10, 0, 10, 20];
const phGridY = [-15, -10, -5, 0, 5, 10, 15, 20, 25];

const FONT = '"Liberation Sans", Arial, Helvetica, sans-serif';
const POINT_GREY = '#7f7f7f';

function isMajor(v, majors) {
  return majors.some(m => Math.abs(m - v) < 1e-9);
}

function fmt(v, digits) {
  return v.toFixed(digits).replace('-', '\u2212');
}

// builds one linear axis in the ggplot look
function makeScale(o) {
  return {
    type: 'linear',
    position: o.position,
    min: o.min,
    max: o.max,
    afterBuildTicks: s => { s.ticks = o.grid.map(v => ({ value: v })); },
    afterFit: s => {
      if (o.position === 'left') s.width = o.size; else s.height = o.size;
    },
    border: { display: false },
    grid: {
      drawTicks: true,
      tickLength: 8,
      tickWidth: 2,
      color: c => (c.tick && isMajor(c.tick.value, o.majors)) ? '#ebebeb' : '#f4f4f4',
      lineWidth: c => (c.tick && isMajor(c.tick.value, o.majors)) ? 1.8 : 1,
      tickColor: c => (c.tick && isMajor(c.tick.value, o.majors)) ? '#333333' : 'rgba(0,0,0,0)'
    },
    ticks: {
      autoSkip: false,
      maxRotation: 0,
      padding: o.tickPad,
      color: '#4d4d4d',
      font: { family: FONT, size: 29 },
      callback: v => isMajor(v, o.majors) ? fmt(v, o.digits) : ''
    },
    title: {
      display: true,
      text: o.title,
      color: '#000000',
      font: { family: FONT, size: 37, weight: 'bold' },
      padding: o.titlePad
    }
  };
}

// frame round the panel + leader lines and names of labelled points
function makeLabelPlugin(items, extra) {
  return {
    id: 'labels',
    afterDraw(chart) {
      const { ctx, chartArea: a, scales: { x, y } } = chart;
      ctx.save();
      ctx.strokeStyle = '#333333';
      ctx.lineWidth = 2;
      ctx.strokeRect(a.left, a.top, a.right - a.left, a.bottom - a.top);
      ctx.font = '14px ' + FONT;
      ctx.fillStyle = '#1a1a1a';
      ctx.lineWidth = 1.3;
      ctx.textBaseline = 'middle';
      items.forEach(it => {
        const px = x.getPixelForValue(it.x);
        const py = y.getPixelForValue(it.y);
        ctx.beginPath();
        ctx.moveTo(px + it.line[0], py + it.line[1]);
        ctx.lineTo(px + it.line[2], py + it.line[3]);
        ctx.stroke();
        ctx.textAlign = it.align;
        ctx.fillText(it.name, px + it.text[0], py + it.text[1]);
      });
      if (extra) extra(ctx);
      ctx.restore();
    }
  };
}

// leader-line layout for each label (pixels, relative to the point)
const efdLayout = [
  { line: [8.4, 0, 28.4, 0], text: [36.7, -1], align: 'left' },
  { line: [0, 8, 0, 46.7], text: [-64, 56], align: 'left' },
  { line: [0, -80.3, 0, -9.7], text: [-16, -90.7], align: 'left' },
  { line: [7.7, 0, 27.7, 0], text: [32.7, 0.7], align: 'left' }
];
const phLayout = [
  { line: [-0.5, -44, -0.5, -6.3], text: [-14.4, -53.7], align: 'left' },
  { line: [-27.3, 0, -6.6, 0], text: [-31.6, -1.4], align: 'right' },
  { line: [0, 7.3, 0, 57.3], text: [-107.4, 64.7], align: 'left' },
  { line: [8.7, 0, 29.3, 0], text: [34.3, -1], align: 'left' }
];

function buildChart(canvasId, cfg) {
  const items = cfg.names.map((n, i) => Object.assign({ name: n, x: cfg.labX[i], y: cfg.labY[i] }, cfg.layout[i]));
  return new Chart(document.getElementById(canvasId), {
    type: 'scatter',
    data: {
      datasets: [
        {
          data: cfg.points.map(p => ({ x: p[0], y: p[1] })),
          pointRadius: 2.6,
          pointBackgroundColor: POINT_GREY,
          pointBorderWidth: 0
        },
        {
          data: cfg.labX.map((v, i) => ({ x: v, y: cfg.labY[i] })),
          pointRadius: cfg.labRadius,
          pointBackgroundColor: cfg.labColor,
          pointBorderColor: POINT_GREY,
          pointBorderWidth: cfg.labBorder
        }
      ]
    },
    options: {
      responsive: false,
      animation: false,
      devicePixelRatio: 1,
      events: [],
      layout: { padding: cfg.padding },
      plugins: { legend: { display: false }, tooltip: { enabled: false } },
      scales: { x: makeScale(cfg.xAxis), y: makeScale(cfg.yAxis) }
    },
    plugins: [makeLabelPlugin(items, cfg.extra)]
  });
}

buildChart('efdChart', {
  points: efdPoints,
  names: efdLabelNames, labX: efdLabelPC1, labY: efdLabelPC2, layout: efdLayout,
  labRadius: [2.2, 3.2, 3.2, 3.2],
  labColor: ['#6fbf6f', POINT_GREY, POINT_GREY, POINT_GREY],
  labBorder: [0.8, 0, 0, 0],
  padding: { top: 62.5, right: 4, bottom: 0, left: 0 },
  xAxis: { position: 'bottom', min: -0.1739, max: 0.3959, grid: efdGridX, majors: efdTicksX, digits: 1,
           size: 89, tickPad: 1, title: 'EFD PC1 (80.23%)', titlePad: { top: 0, bottom: 9 } },
  yAxis: { position: 'left', min: -0.0796, max: 0.0871, grid: efdGridY, majors: efdTicksY, digits: 2,
           size: 146.7, tickPad: 4, title: 'EFD PC2 (11.12%)', titlePad: { top: 17, bottom: 0 } },
  extra: ctx => {
    ctx.font = 'bold 40px ' + FONT;
    ctx.fillStyle = '#000000';
    ctx.textAlign = 'left';
    ctx.textBaseline = 'alphabetic';
    ctx.fillText('b', 14, 42);
  }
});

buildChart('phChart', {
  points: phPoints,
  names: phLabelNames, labX: phLabelPC1, labY: phLabelPC2, layout: phLayout,
  labRadius: 3.2,
  labColor: POINT_GREY,
  labBorder: 0,
  padding: { top: 61.5, right: 9, bottom: 0, left: 0 },
  xAxis: { position: 'bottom', min: -40.6, max: 57.37, grid: phGridX, majors: phTicksX, digits: 0,
           size: 92, tickPad: 1, title: 'PH PC1 (62.20%)', titlePad: { top: 0, bottom: 9 } },
  yAxis: { position: 'left', min: -17.9, max: 30.0, grid: phGridY, majors: phTicksY, digits: 0,
           size: 134.5, tickPad: 6, title: 'PH PC2 (8.92%)', titlePad: { top: 35, bottom: 0 } }
});
</script>
</body>
</html>
